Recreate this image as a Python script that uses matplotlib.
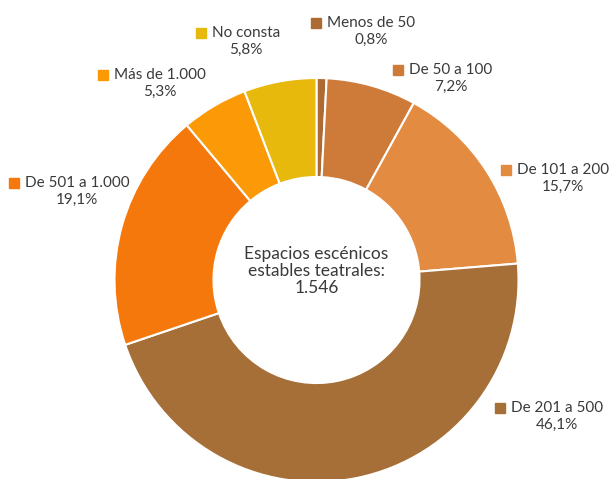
import numpy as np
import matplotlib.pyplot as plt

categories = ['Menos de 50', 'De 50 a 100', 'De 101 a 200', 'De 201 a 500',
              'De 501 a 1.000', 'Más de 1.000', 'No consta']
shares = [0.8, 7.2, 15.7, 46.1, 19.1, 5.3, 5.8]
share_labels = ['0,8%', '7,2%', '15,7%', '46,1%', '19,1%', '5,3%', '5,8%']
total = '1.546'

colors = ['#AD6A32', '#CE7B3A', '#E48B42', '#A66F37', '#F5780D', '#FB9A06', '#E8B90D']
# label anchor (marker centre x, first line y) in pixels from top-left
label_pos = [(316, 23), (398, 70), (506, 170), (500, 408), (14, 183), (103, 75), (201, 33)]

W, H = 611, 479
plt.rcParams['font.family'] = ['Lato', 'DejaVu Sans']

fig = plt.figure(figsize=(W / 100, H / 100), dpi=100)
ax = fig.add_axes([0, 0, 1, 1])

cx, cy, R = 316.5, H - 280, 202
explode = [0, 0, 0, 0.035, 0, 0, 0]
ax.pie(shares, colors=colors, startangle=90, counterclock=False, center=(cx, cy),
       radius=R, explode=explode, frame=True,
       wedgeprops=dict(width=R * 0.49, edgecolor='white', linewidth=1.5))
ax.set_xlim(0, W)
ax.set_ylim(0, H)
ax.set_aspect('equal')
ax.axis('off')

txt_color = '#3a3a3a'
fs = 11
for name, lab, col, (mx, my) in zip(categories, share_labels, colors, label_pos):
    y1 = H - my
    ax.plot(mx, y1, marker='s', markersize=7, color=col, linestyle='none')
    t = ax.text(mx + 11, y1, name, fontsize=fs, color=txt_color, ha='left', va='center')
    fig.canvas.draw()
    bb = t.get_window_extent()
    xmid = (bb.x0 + bb.x1) / 2
    ax.text(xmid, y1 - 17, lab, fontsize=fs, color=txt_color, ha='center', va='center')

ax.text(cx, H - 271, 'Espacios escénicos\nestables teatrales:\n' + total,
        fontsize=12.5, color=txt_color, ha='center', va='center', linespacing=1.05)

fig.savefig('out.png', dpi=100)
